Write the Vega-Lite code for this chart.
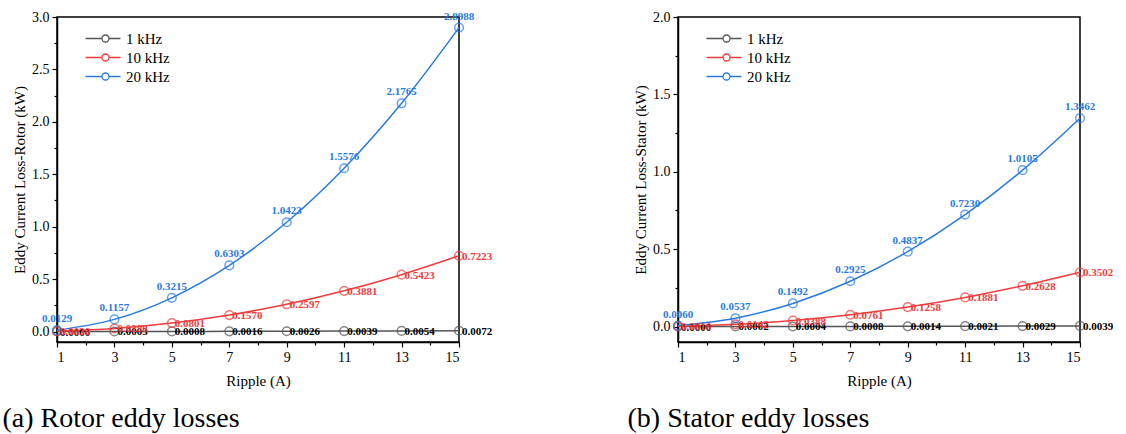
{
  "$schema": "https://vega.github.io/schema/vega-lite/v6.json",
  "background": "white",
  "padding": {"left": 1, "top": 9, "right": 5, "bottom": 2},
  "config": {
    "font": "Liberation Serif",
    "view": {"stroke": "black", "strokeWidth": 1.5}
  },
  "data": {
    "values": [
      {"part": "Rotor", "freq": "1 kHz", "ripple": 1, "loss": 0.0000},
      {"part": "Rotor", "freq": "1 kHz", "ripple": 3, "loss": 0.0003},
      {"part": "Rotor", "freq": "1 kHz", "ripple": 5, "loss": 0.0008},
      {"part": "Rotor", "freq": "1 kHz", "ripple": 7, "loss": 0.0016},
      {"part": "Rotor", "freq": "1 kHz", "ripple": 9, "loss": 0.0026},
      {"part": "Rotor", "freq": "1 kHz", "ripple": 11, "loss": 0.0039},
      {"part": "Rotor", "freq": "1 kHz", "ripple": 13, "loss": 0.0054},
      {"part": "Rotor", "freq": "1 kHz", "ripple": 15, "loss": 0.0072},
      {"part": "Rotor", "freq": "10 kHz", "ripple": 1, "loss": 0.0030},
      {"part": "Rotor", "freq": "10 kHz", "ripple": 3, "loss": 0.0288},
      {"part": "Rotor", "freq": "10 kHz", "ripple": 5, "loss": 0.0801},
      {"part": "Rotor", "freq": "10 kHz", "ripple": 7, "loss": 0.1570},
      {"part": "Rotor", "freq": "10 kHz", "ripple": 9, "loss": 0.2597},
      {"part": "Rotor", "freq": "10 kHz", "ripple": 11, "loss": 0.3881},
      {"part": "Rotor", "freq": "10 kHz", "ripple": 13, "loss": 0.5423},
      {"part": "Rotor", "freq": "10 kHz", "ripple": 15, "loss": 0.7223},
      {"part": "Rotor", "freq": "20 kHz", "ripple": 1, "loss": 0.0129},
      {"part": "Rotor", "freq": "20 kHz", "ripple": 3, "loss": 0.1157},
      {"part": "Rotor", "freq": "20 kHz", "ripple": 5, "loss": 0.3215},
      {"part": "Rotor", "freq": "20 kHz", "ripple": 7, "loss": 0.6303},
      {"part": "Rotor", "freq": "20 kHz", "ripple": 9, "loss": 1.0423},
      {"part": "Rotor", "freq": "20 kHz", "ripple": 11, "loss": 1.5576},
      {"part": "Rotor", "freq": "20 kHz", "ripple": 13, "loss": 2.1765},
      {"part": "Rotor", "freq": "20 kHz", "ripple": 15, "loss": 2.8988},
      {"part": "Stator", "freq": "1 kHz", "ripple": 1, "loss": 0.0000},
      {"part": "Stator", "freq": "1 kHz", "ripple": 3, "loss": 0.0002},
      {"part": "Stator", "freq": "1 kHz", "ripple": 5, "loss": 0.0004},
      {"part": "Stator", "freq": "1 kHz", "ripple": 7, "loss": 0.0008},
      {"part": "Stator", "freq": "1 kHz", "ripple": 9, "loss": 0.0014},
      {"part": "Stator", "freq": "1 kHz", "ripple": 11, "loss": 0.0021},
      {"part": "Stator", "freq": "1 kHz", "ripple": 13, "loss": 0.0029},
      {"part": "Stator", "freq": "1 kHz", "ripple": 15, "loss": 0.0039},
      {"part": "Stator", "freq": "10 kHz", "ripple": 1, "loss": 0.0016},
      {"part": "Stator", "freq": "10 kHz", "ripple": 3, "loss": 0.0142},
      {"part": "Stator", "freq": "10 kHz", "ripple": 5, "loss": 0.0388},
      {"part": "Stator", "freq": "10 kHz", "ripple": 7, "loss": 0.0761},
      {"part": "Stator", "freq": "10 kHz", "ripple": 9, "loss": 0.1258},
      {"part": "Stator", "freq": "10 kHz", "ripple": 11, "loss": 0.1881},
      {"part": "Stator", "freq": "10 kHz", "ripple": 13, "loss": 0.2628},
      {"part": "Stator", "freq": "10 kHz", "ripple": 15, "loss": 0.3502},
      {"part": "Stator", "freq": "20 kHz", "ripple": 1, "loss": 0.0060},
      {"part": "Stator", "freq": "20 kHz", "ripple": 3, "loss": 0.0537},
      {"part": "Stator", "freq": "20 kHz", "ripple": 5, "loss": 0.1492},
      {"part": "Stator", "freq": "20 kHz", "ripple": 7, "loss": 0.2925},
      {"part": "Stator", "freq": "20 kHz", "ripple": 9, "loss": 0.4837},
      {"part": "Stator", "freq": "20 kHz", "ripple": 11, "loss": 0.7230},
      {"part": "Stator", "freq": "20 kHz", "ripple": 13, "loss": 1.0105},
      {"part": "Stator", "freq": "20 kHz", "ripple": 15, "loss": 1.3462}
    ]
  },
  "spacing": 133,
  "resolve": {"scale": {"color": "independent", "x": "independent", "y": "independent"}, "legend": {"color": "independent"}},
  "hconcat": [
    {
      "width": 402,
      "height": 325,
      "title": {"text": "(a) Rotor eddy losses", "orient": "bottom", "anchor": "start", "frame": "bounds", "offset": 17, "dx": -10, "font": "Liberation Serif", "fontSize": 28, "fontWeight": "normal", "color": "black"},
      "transform": [{"filter": "datum.part == 'Rotor'"}],
      "encoding": {
        "x": {
          "field": "ripple", "type": "quantitative",
          "scale": {"domain": [1, 15], "nice": false, "zero": false},
          "axis": {
            "title": "Ripple (A)", "titlePadding": 9,
            "grid": false, "domainColor": "black", "domainWidth": 1.5, "tickColor": "black", "tickWidth": 1.2,
            "labelFont": "Liberation Serif", "labelFontSize": 14, "labelColor": "black",
            "titleFont": "Liberation Serif", "titleFontSize": 15, "titleFontWeight": "normal", "titleColor": "black",
            "values": [1, 2, 3, 4, 5, 6, 7, 8, 9, 10, 11, 12, 13, 14, 15],
            "labelExpr": "datum.value % 2 == 1 ? datum.label : ''",
            "tickSize": {"condition": {"test": "datum.value % 2 == 1", "value": 5}, "value": 3},
            "labelPadding": 3
          }
        },
        "y": {
          "field": "loss", "type": "quantitative",
          "scale": {"domain": [-0.1, 3.0], "nice": false, "zero": false},
          "axis": {
            "title": "Eddy Current Loss-Rotor (kW)", "titlePadding": 4,
            "grid": false, "domainColor": "black", "domainWidth": 1.5, "tickColor": "black", "tickWidth": 1.2,
            "labelFont": "Liberation Serif", "labelFontSize": 14, "labelColor": "black",
            "titleFont": "Liberation Serif", "titleFontSize": 15, "titleFontWeight": "normal", "titleColor": "black",
            "values": [0, 0.25, 0.5, 0.75, 1, 1.25, 1.5, 1.75, 2, 2.25, 2.5, 2.75, 3],
            "labelExpr": "(datum.value * 2) % 1 == 0 ? format(datum.value, '.1f') : ''",
            "tickSize": {"condition": {"test": "(datum.value * 2) % 1 == 0", "value": 5}, "value": 3},
            "labelPadding": 3
          }
        },
        "color": {
          "field": "freq", "type": "nominal",
          "scale": {"domain": ["1 kHz", "10 kHz", "20 kHz"], "range": ["#555555", "#F23C3C", "#2A7AE2"]},
          "legend": {
            "title": null, "orient": "none", "legendX": 26, "legendY": 14, "padding": 0,
            "labelFont": "Liberation Serif", "labelFontSize": 15, "labelColor": "black",
            "symbolType": "M-1,0L2.3,0M3.7,0L6,0M2.3,0A0.7,0.7 0 1,0 3.7,0A0.7,0.7 0 1,0 2.3,0",
            "symbolSize": 100, "symbolStrokeWidth": 1.3, "symbolFillColor": "transparent",
            "rowPadding": 3, "labelOffset": 28,
            "encode": {"symbols": {"enter": {"fillOpacity": {"value": 0}}, "update": {"fill": {"value": "transparent"}, "fillOpacity": {"value": 0}}}}
          }
        }
      },
      "layer": [
        {"mark": {"type": "line", "interpolate": "monotone", "strokeWidth": 1.5}},
        {"mark": {"type": "point", "shape": "circle", "filled": false, "size": 75, "strokeWidth": 1.5}},
        {
          "transform": [{"filter": "datum.freq == '20 kHz'"}],
          "mark": {"type": "text", "dy": -11, "fontWeight": "bold", "fontSize": 11, "font": "Liberation Serif"},
          "encoding": {"text": {"field": "loss", "type": "quantitative", "format": ".4f"}}
        },
        {
          "transform": [{"filter": "datum.freq != '20 kHz'"}],
          "mark": {"type": "text", "align": "left", "dx": 3, "dy": 1, "fontWeight": "bold", "fontSize": 11, "font": "Liberation Serif"},
          "encoding": {
            "text": {"field": "loss", "type": "quantitative", "format": ".4f"},
            "color": {"condition": {"test": "datum.freq == '1 kHz'", "value": "black"}, "field": "freq", "type": "nominal", "legend": null}
          }
        }
      ]
    },
    {
      "width": 402,
      "height": 325,
      "title": {"text": "(b) Stator eddy losses", "orient": "bottom", "anchor": "start", "frame": "bounds", "offset": 17, "dx": -6, "font": "Liberation Serif", "fontSize": 28, "fontWeight": "normal", "color": "black"},
      "transform": [{"filter": "datum.part == 'Stator'"}],
      "encoding": {
        "x": {
          "field": "ripple", "type": "quantitative",
          "scale": {"domain": [1, 15], "nice": false, "zero": false},
          "axis": {
            "title": "Ripple (A)", "titlePadding": 9,
            "grid": false, "domainColor": "black", "domainWidth": 1.5, "tickColor": "black", "tickWidth": 1.2,
            "labelFont": "Liberation Serif", "labelFontSize": 14, "labelColor": "black",
            "titleFont": "Liberation Serif", "titleFontSize": 15, "titleFontWeight": "normal", "titleColor": "black",
            "values": [1, 2, 3, 4, 5, 6, 7, 8, 9, 10, 11, 12, 13, 14, 15],
            "labelExpr": "datum.value % 2 == 1 ? datum.label : ''",
            "tickSize": {"condition": {"test": "datum.value % 2 == 1", "value": 5}, "value": 3},
            "labelPadding": 3
          }
        },
        "y": {
          "field": "loss", "type": "quantitative",
          "scale": {"domain": [-0.1, 2.0], "nice": false, "zero": false},
          "axis": {
            "title": "Eddy Current Loss-Stator (kW)", "titlePadding": 4,
            "grid": false, "domainColor": "black", "domainWidth": 1.5, "tickColor": "black", "tickWidth": 1.2,
            "labelFont": "Liberation Serif", "labelFontSize": 14, "labelColor": "black",
            "titleFont": "Liberation Serif", "titleFontSize": 15, "titleFontWeight": "normal", "titleColor": "black",
            "values": [0, 0.25, 0.5, 0.75, 1, 1.25, 1.5, 1.75, 2],
            "labelExpr": "(datum.value * 2) % 1 == 0 ? format(datum.value, '.1f') : ''",
            "tickSize": {"condition": {"test": "(datum.value * 2) % 1 == 0", "value": 5}, "value": 3},
            "labelPadding": 3
          }
        },
        "color": {
          "field": "freq", "type": "nominal",
          "scale": {"domain": ["1 kHz", "10 kHz", "20 kHz"], "range": ["#555555", "#F23C3C", "#2A7AE2"]},
          "legend": {
            "title": null, "orient": "none", "legendX": 26, "legendY": 14, "padding": 0,
            "labelFont": "Liberation Serif", "labelFontSize": 15, "labelColor": "black",
            "symbolType": "M-1,0L2.3,0M3.7,0L6,0M2.3,0A0.7,0.7 0 1,0 3.7,0A0.7,0.7 0 1,0 2.3,0",
            "symbolSize": 100, "symbolStrokeWidth": 1.3, "symbolFillColor": "transparent",
            "rowPadding": 3, "labelOffset": 28,
            "encode": {"symbols": {"enter": {"fillOpacity": {"value": 0}}, "update": {"fill": {"value": "transparent"}, "fillOpacity": {"value": 0}}}}
          }
        }
      },
      "layer": [
        {"mark": {"type": "line", "interpolate": "monotone", "strokeWidth": 1.5}},
        {"mark": {"type": "point", "shape": "circle", "filled": false, "size": 75, "strokeWidth": 1.5}},
        {
          "transform": [{"filter": "datum.freq == '20 kHz'"}],
          "mark": {"type": "text", "dy": -11, "fontWeight": "bold", "fontSize": 11, "font": "Liberation Serif"},
          "encoding": {"text": {"field": "loss", "type": "quantitative", "format": ".4f"}}
        },
        {
          "transform": [{"filter": "datum.freq != '20 kHz'"}],
          "mark": {"type": "text", "align": "left", "dx": 3, "dy": 1, "fontWeight": "bold", "fontSize": 11, "font": "Liberation Serif"},
          "encoding": {
            "text": {"field": "loss", "type": "quantitative", "format": ".4f"},
            "color": {"condition": {"test": "datum.freq == '1 kHz'", "value": "black"}, "field": "freq", "type": "nominal", "legend": null}
          }
        }
      ]
    }
  ]
}
